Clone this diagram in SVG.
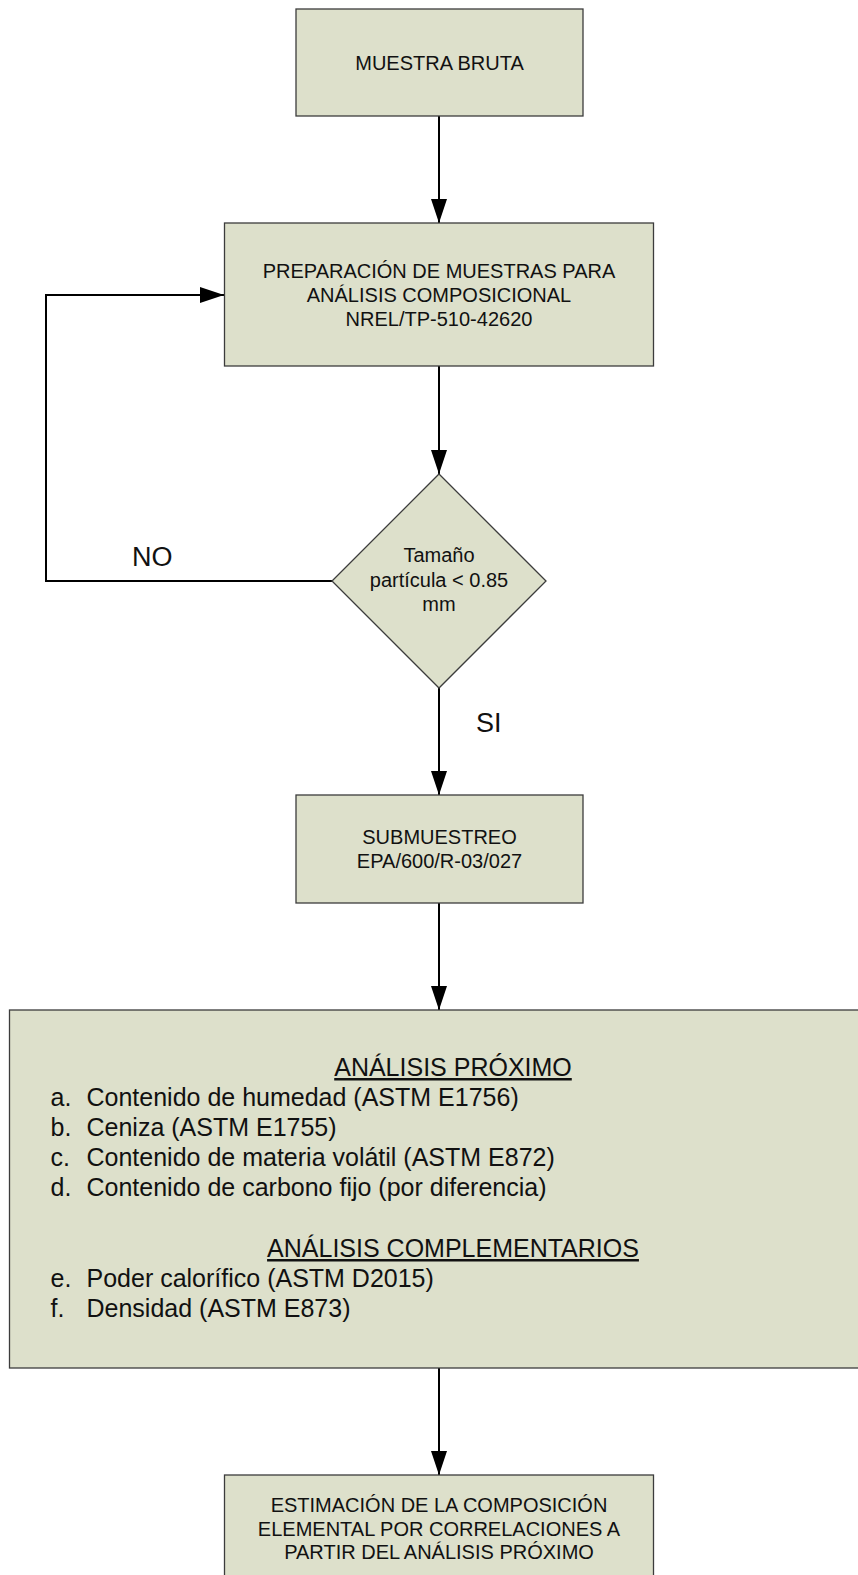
<svg xmlns="http://www.w3.org/2000/svg" width="858" height="1575" viewBox="0 0 858 1575">
  <defs>
    <marker id="arrow" markerUnits="userSpaceOnUse" markerWidth="24" markerHeight="16" refX="24" refY="8" orient="auto">
      <path d="M0,0 L24,8 L0,16 Z" fill="#000"/>
    </marker>
  </defs>
  <style>
    .box { fill: #dde0cb; stroke: #3c3c3c; stroke-width: 1.3; }
    .t { font-family: "Liberation Sans", Arial, sans-serif; font-size: 20px; fill: #111; text-anchor: middle; }
    .item { font-family: "Liberation Sans", Arial, sans-serif; font-size: 25px; fill: #111; }
    .head { font-family: "Liberation Sans", Arial, sans-serif; font-size: 25px; fill: #111; text-anchor: middle; text-decoration: underline; }
    .lbl { font-family: "Liberation Sans", Arial, sans-serif; font-size: 27px; fill: #111; }
    .conn { fill: none; stroke: #000; stroke-width: 2; }
  </style>
  <rect width="858" height="1575" fill="#fff"/>

  <!-- connectors -->
  <g id="connectors">
    <line class="conn" x1="439" y1="116" x2="439" y2="223" marker-end="url(#arrow)"/>
    <line class="conn" x1="439" y1="366" x2="439" y2="474" marker-end="url(#arrow)"/>
    <line class="conn" x1="439" y1="688" x2="439" y2="795" marker-end="url(#arrow)"/>
    <line class="conn" x1="439" y1="903" x2="439" y2="1010" marker-end="url(#arrow)"/>
    <line class="conn" x1="439" y1="1368" x2="439" y2="1475" marker-end="url(#arrow)"/>
    <polyline class="conn" points="332,581 46,581 46,295 224,295" marker-end="url(#arrow)"/>
    <text class="lbl" x="132" y="566">NO</text>
    <text class="lbl" x="476" y="732">SI</text>
  </g>

  <!-- raw sample -->
  <g id="muestra-bruta">
    <rect class="box" x="296" y="9" width="287" height="107"/>
    <text class="t" x="439.5" y="70">MUESTRA BRUTA</text>
  </g>

  <!-- sample preparation -->
  <g id="preparacion">
    <rect class="box" x="224.5" y="223" width="429" height="143"/>
    <text class="t" x="439" y="278">PREPARACIÓN DE MUESTRAS PARA</text>
    <text class="t" x="439" y="302">ANÁLISIS COMPOSICIONAL</text>
    <text class="t" x="439" y="326">NREL/TP-510-42620</text>
  </g>

  <!-- particle size decision -->
  <g id="tamano">
    <polygon class="box" points="439,474 546,581 439,688 332,581"/>
    <text class="t" x="439" y="562">Tamaño</text>
    <text class="t" x="439" y="587">partícula &lt; 0.85</text>
    <text class="t" x="439" y="611">mm</text>
  </g>

  <!-- subsampling -->
  <g id="submuestreo">
    <rect class="box" x="296" y="795" width="287" height="108"/>
    <text class="t" x="439.5" y="844">SUBMUESTREO</text>
    <text class="t" x="439.5" y="868">EPA/600/R-03/027</text>
  </g>

  <!-- analyses -->
  <g id="analisis">
    <rect class="box" x="9.5" y="1010" width="888" height="358"/>
    <text class="head" x="453" y="1076">ANÁLISIS PRÓXIMO</text>
    <text class="item" y="1106"><tspan x="50.5">a.</tspan><tspan x="86.5">Contenido de humedad (ASTM E1756)</tspan></text>
    <text class="item" y="1136"><tspan x="50.5">b.</tspan><tspan x="86.5">Ceniza (ASTM E1755)</tspan></text>
    <text class="item" y="1166"><tspan x="50.5">c.</tspan><tspan x="86.5">Contenido de materia volátil (ASTM E872)</tspan></text>
    <text class="item" y="1196"><tspan x="50.5">d.</tspan><tspan x="86.5">Contenido de carbono fijo (por diferencia)</tspan></text>
    <text class="head" x="453" y="1257">ANÁLISIS COMPLEMENTARIOS</text>
    <text class="item" y="1287"><tspan x="50.5">e.</tspan><tspan x="86.5">Poder calorífico (ASTM D2015)</tspan></text>
    <text class="item" y="1317"><tspan x="50.5">f.</tspan><tspan x="86.5">Densidad (ASTM E873)</tspan></text>
  </g>

  <!-- elemental composition -->
  <g id="estimacion">
    <rect class="box" x="224.5" y="1475" width="429" height="120"/>
    <text class="t" x="439" y="1512">ESTIMACIÓN DE LA COMPOSICIÓN</text>
    <text class="t" x="439" y="1535.5">ELEMENTAL POR CORRELACIONES A</text>
    <text class="t" x="439" y="1559">PARTIR DEL ANÁLISIS PRÓXIMO</text>
  </g>
</svg>
